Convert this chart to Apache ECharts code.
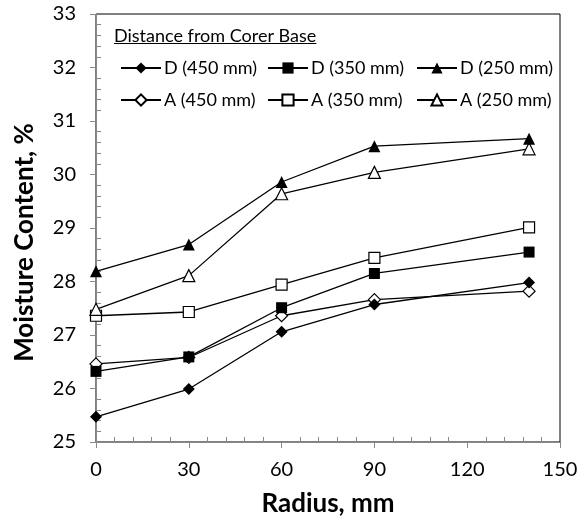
<!DOCTYPE html>
<html>
<head>
<meta charset="utf-8">
<script src="https://cdn.jsdelivr.net/npm/echarts@6/dist/echarts.min.js"></script>
<style>
  html, body { margin: 0; padding: 0; background: #fff; }
  #chart { width: 579px; height: 518px; }
</style>
</head>
<body>
<div id="chart"></div>
<script>
// Radial position (mm) of each sample
const radius = [0, 30, 60, 90, 140];

// Moisture content (%) at each radius, by distance from the corer base
const d450 = [25.47, 25.99, 27.06, 27.57, 27.98];
const d350 = [26.32, 26.59, 27.51, 28.15, 28.55];
const d250 = [28.19, 28.69, 29.86, 30.53, 30.67];
const a450 = [26.46, 26.58, 27.36, 27.66, 27.82];
const a350 = [27.36, 27.43, 27.94, 28.44, 29.01];
const a250 = [27.48, 28.11, 29.64, 30.04, 30.48];

const seriesNames = ['D (450 mm)', 'D (350 mm)', 'D (250 mm)', 'A (450 mm)', 'A (350 mm)', 'A (250 mm)'];
const legendTitle = 'Distance from Corer Base';
const xTitle = 'Radius, mm';
const yTitle = 'Moisture Content, %';

const FONT = 'Lato, "Open Sans", sans-serif';
const AXIS_GREY = '#898989';

function pairs(values) {
  return radius.map((r, i) => [r, values[i]]);
}

function lineSeries(name, values, symbol, size, filled) {
  return {
    name: name,
    type: 'line',
    data: pairs(values),
    symbol: symbol,
    symbolSize: size,
    showSymbol: true,
    lineStyle: { color: '#000', width: 1.3 },
    itemStyle: filled
      ? { color: '#000', borderColor: '#000', borderWidth: 0 }
      : { color: '#fff', borderColor: '#000', borderWidth: 1.2 },
    emphasis: { disabled: true },
    animation: false
  };
}

// Open markers are drawn first so that the filled markers sit on top
const series = [
  lineSeries(seriesNames[3], a450, 'diamond', 12, false),
  lineSeries(seriesNames[4], a350, 'rect', 11, false),
  lineSeries(seriesNames[5], a250, 'triangle', 12, false),
  lineSeries(seriesNames[0], d450, 'diamond', 12, true),
  lineSeries(seriesNames[1], d350, 'rect', 11, true),
  lineSeries(seriesNames[2], d250, 'triangle', 12, true)
];

function legendColumn(left, names) {
  return {
    orient: 'vertical',
    left: left,
    top: 54,
    data: names,
    itemWidth: 40,
    itemHeight: 14,
    itemGap: 14,
    selectedMode: false,
    textStyle: { fontFamily: FONT, fontSize: 18, color: '#000', lineHeight: 18, padding: [0, 0, 0, -2] },
    inactiveColor: '#000'
  };
}

// Width of the legend heading, used for its underline
const titleFont = '18px ' + FONT;
const titleWidth = new echarts.graphic.Text({
  style: { text: legendTitle, font: titleFont }
}).getBoundingRect().width;

const chart = echarts.init(document.getElementById('chart'), null, { renderer: 'canvas' });

chart.setOption({
  animation: false,
  backgroundColor: '#fff',
  grid: {
    left: 96, right: 19, top: 14, bottom: 76,
    outerBoundsMode: 'none',
    containLabel: false,
    show: true, borderColor: '#000', borderWidth: 1, backgroundColor: 'transparent'
  },
  xAxis: {
    type: 'value',
    min: 0, max: 150, interval: 30,
    name: xTitle,
    nameLocation: 'middle',
    nameGap: 49,
    nameTextStyle: { fontFamily: FONT, fontSize: 26, fontWeight: 'bold', color: '#000' },
    axisLine: { show: true, onZero: false, lineStyle: { color: AXIS_GREY, width: 1 } },
    axisTick: { show: true, inside: false, length: 6, lineStyle: { color: AXIS_GREY } },
    minorTick: { show: true, splitNumber: 5, length: -5, lineStyle: { color: AXIS_GREY } },
    axisLabel: { fontFamily: FONT, fontSize: 20, color: '#000', margin: 18 },
    splitLine: { show: false }
  },
  yAxis: {
    type: 'value',
    min: 25, max: 33, interval: 1,
    name: yTitle,
    nameLocation: 'middle',
    nameGap: 58,
    nameTextStyle: {
      fontFamily: FONT, fontSize: 26, fontWeight: 'bold', color: '#000',
      padding: [0, 29, 0, 0]
    },
    axisLine: { show: true, onZero: false, lineStyle: { color: AXIS_GREY, width: 1 } },
    axisTick: { show: true, inside: false, length: 6, lineStyle: { color: AXIS_GREY } },
    minorTick: { show: true, splitNumber: 5, length: -5, lineStyle: { color: AXIS_GREY } },
    axisLabel: { fontFamily: FONT, fontSize: 20, color: '#000', margin: 20 },
    splitLine: { show: false }
  },
  legend: [
    legendColumn(115, [seriesNames[0], seriesNames[3]]),
    legendColumn(262, [seriesNames[1], seriesNames[4]]),
    legendColumn(411, [seriesNames[2], seriesNames[5]])
  ],
  graphic: [
    {
      type: 'text',
      left: 114,
      top: 27,
      style: { text: legendTitle, font: titleFont, fill: '#000' }
    },
    {
      type: 'line',
      shape: { x1: 114, y1: 43.5, x2: 114 + titleWidth, y2: 43.5 },
      style: { stroke: '#000', lineWidth: 1 }
    }
  ],
  series: series
});
</script>
</body>
</html>
